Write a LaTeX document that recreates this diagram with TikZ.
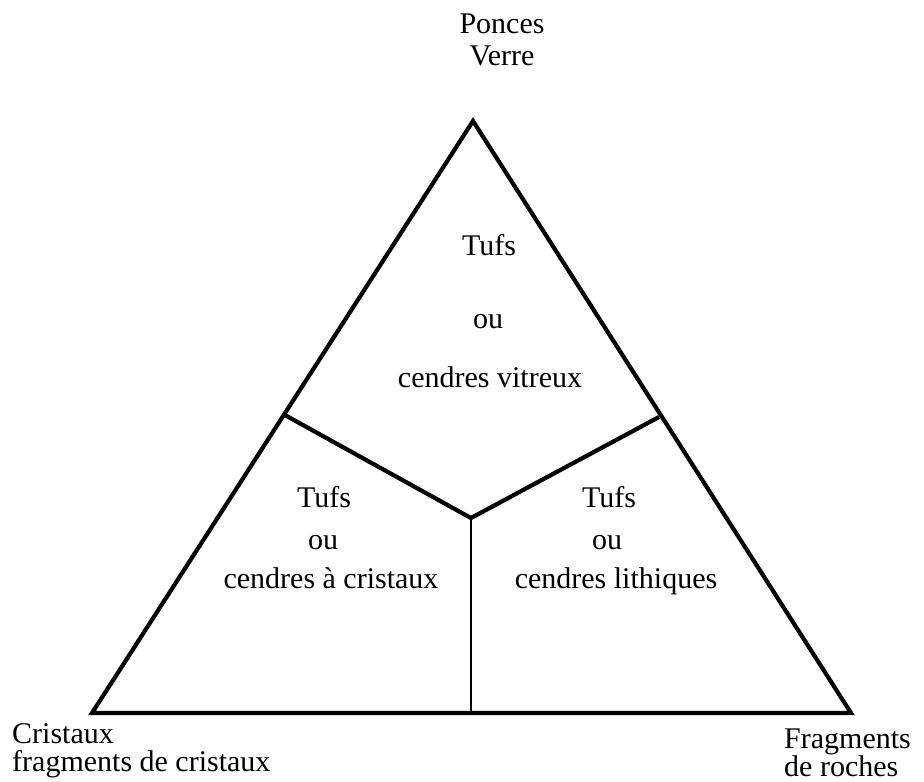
\documentclass[tikz,border=0pt]{standalone}
\usepackage{fontspec}
\setmainfont{Liberation Serif}
\begin{document}
\begin{tikzpicture}[x=1pt,y=-1pt,
  edge/.style={line width=4.2pt, line join=miter},
  thin edge/.style={line width=2.4pt},
  lbl/.style={font=\fontsize{30}{28}\selectfont, anchor=base, inner sep=0pt},
  lblw/.style={lbl, anchor=base west, align=left}]
\useasboundingbox (0,0) rectangle (924,782);
\coordinate (T) at (473,121);
\coordinate (L) at (92,713);
\coordinate (R) at (851,713);
\coordinate (PL) at (283,414);
\coordinate (PR) at (659,417);
\coordinate (C) at (471,518);
\coordinate (B) at (471,713);
\draw[edge] (T) -- (L) -- (R) -- cycle;
\draw[edge] (PL) -- (C) -- (PR);
\draw[thin edge] (C) -- (B);
% vertex labels (base anchor = baseline of last line)
\node[lbl, align=center, font=\fontsize{30}{32}\selectfont] (pv) at (502,65) {Ponces\\Verre};
\node[lblw] (cr) at (12,771) {Cristaux\\fragments de cristaux};
\node[lblw] (fr) at (784,776) {Fragments\\de roches};
% top region
\node[lbl] (t1) at (489,255) {Tufs};
\node[lbl] (t2) at (488,328) {ou};
\node[lbl] (t3) at (490,387) {cendres vitreux};
% left region
\node[lbl] (l1) at (324,507) {Tufs};
\node[lbl] (l2) at (323,549) {ou};
\node[lbl] (l3) at (331,588) {cendres à cristaux};
% right region
\node[lbl] (r1) at (609,507) {Tufs};
\node[lbl] (r2) at (607,549) {ou};
\node[lbl] (r3) at (616,588) {cendres lithiques};
\end{tikzpicture}
\end{document}
